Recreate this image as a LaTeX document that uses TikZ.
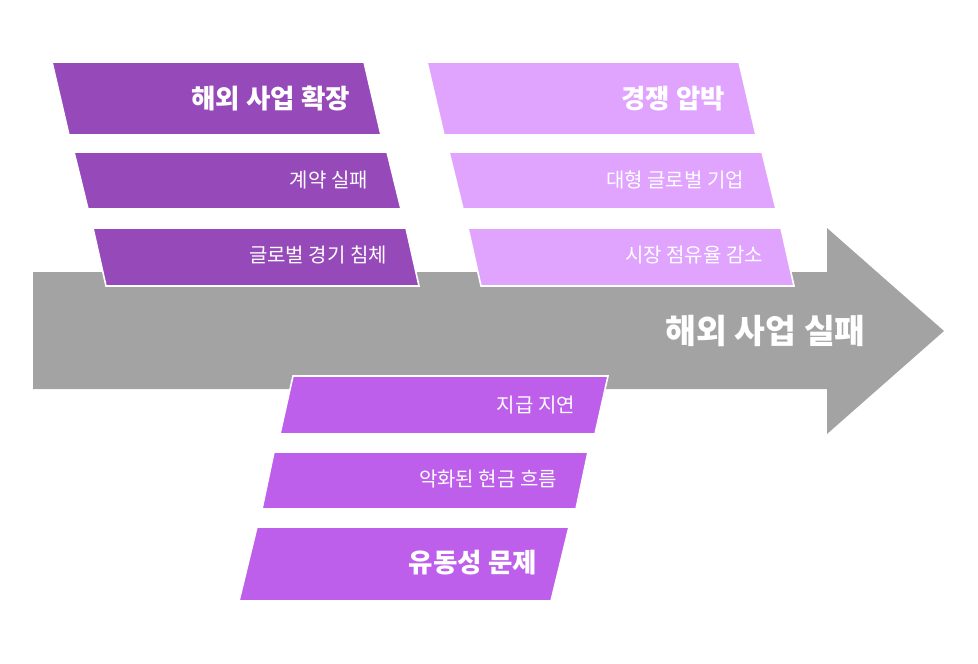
\documentclass[tikz,border=0pt]{standalone}
\usepackage{fontspec}
\newfontfamily\krfont{Noto Sans CJK KR}
\definecolor{arrowgray}{HTML}{A3A3A3}
\definecolor{darkpurple}{HTML}{9649B9}
\definecolor{lightpurple}{HTML}{E0A4FF}
\definecolor{midpurple}{HTML}{BD5FEB}
\tikzset{
  slbox/.style={draw=white,line width=1.6pt},
  title/.style={text=white,anchor=east,inner sep=0pt,font=\krfont\bfseries\fontsize{26.5}{30}\selectfont},
  sub/.style={text=white,anchor=east,inner sep=0pt,font=\krfont\fontsize{20}{24}\selectfont}}
\begin{document}
\begin{tikzpicture}[x=1pt,y=-1pt]
  \useasboundingbox (0,0) rectangle (978,664);
  % main arrow
  \fill[arrowgray](33,272)--(827,272)--(827,228)--(944,331)--(827,434)--(827,389)--(33,389)--cycle;
  \node[title,font=\krfont\bfseries\fontsize{33.5}{38}\selectfont] (fail) at (866,331){해외 사업 실패};
  % slanted boxes
  \foreach \xa/\ya/\yb/\s/\w/\col in {52/62/135/17/312/darkpurple,74/152/209/14/313/darkpurple,
      93/228/286/13/313/darkpurple,427/62/135/17/312/lightpurple,449/152/209/14/313/lightpurple,
      468/228/286/13/313/lightpurple,293/376/434/-13/315/midpurple,274/452/509/-12/314/midpurple,
      257/527/601/-18/312/midpurple}{
    \filldraw[slbox,fill=\col](\xa,\ya)--++(\w,0)--(\xa+\w+\s,\yb)--(\xa+\s,\yb)--cycle;}
  % labels
  \foreach \nm/\x/\y/\txt in {expand/350/99/해외 사업 확장,compete/725/99/경쟁 압박,liquid/537/563/유동성 문제}
    \node[title] (\nm) at (\x,\y){\txt};
  \foreach \nm/\x/\y/\txt in {contract/368/180/계약 실패,slump/387/255/글로벌 경기 침체,
      bigco/744/180/대형 글로벌 기업,share/763/255/시장 점유율 감소,
      delay/575/405/지급 지연,cash/557/479/악화된 현금 흐름}
    \node[sub] (\nm) at (\x,\y){\txt};
\end{tikzpicture}
\end{document}
